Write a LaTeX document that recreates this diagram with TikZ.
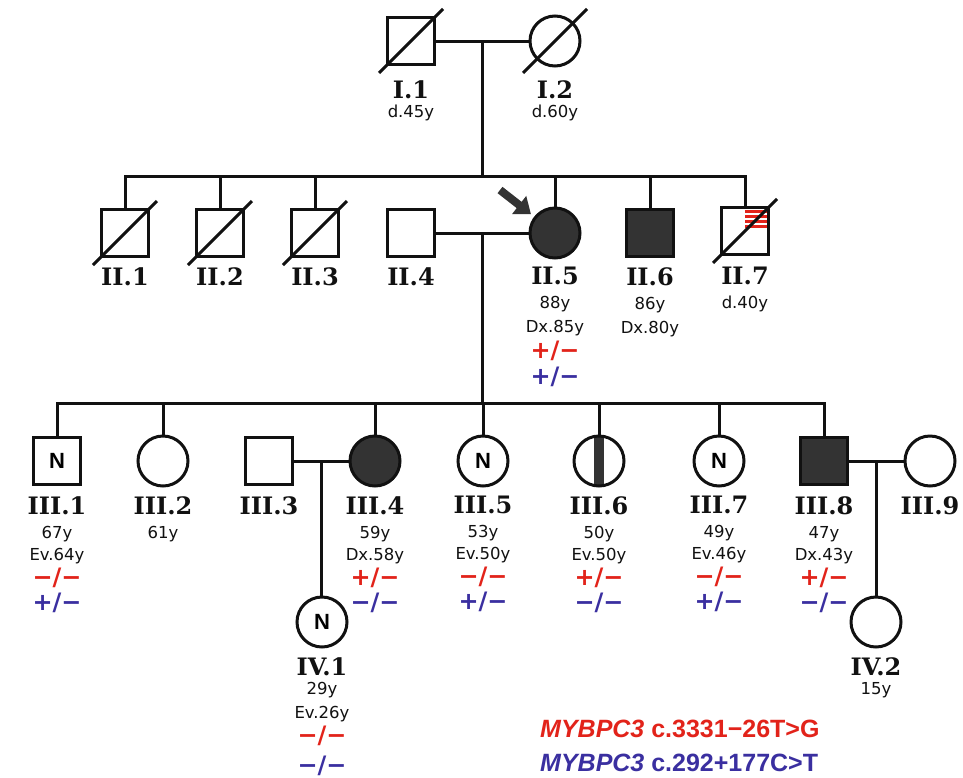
\documentclass[tikz,border=0pt]{standalone}
\usepackage{fontspec}
\usepackage{tikz}
\usetikzlibrary{arrows.meta,calc}
\setmainfont{DejaVu Sans}
\newfontfamily\idserif{DejaVu Serif}
\newfontfamily\arialfont{Liberation Sans}
\definecolor{ink}{HTML}{111111}
\definecolor{dark}{HTML}{333333}
\definecolor{varred}{HTML}{E2231A}
\definecolor{varblue}{HTML}{3A2FA0}
\newcommand{\pid}[1]{{\idserif\bfseries\fontsize{24}{24}\selectfont #1}}
\newcommand{\gtred}[1]{{\color{varred}\bfseries\fontsize{24}{24}\selectfont #1}}
\newcommand{\gtblue}[1]{{\color{varblue}\bfseries\fontsize{24}{24}\selectfont #1}}
\tikzset{
  male/.style={draw=ink, line width=3pt, fill=white, minimum size=47pt, inner sep=0pt, font=\arialfont\bfseries\fontsize{22}{22}\selectfont},
  female/.style={male, circle, minimum size=50pt},
  affected/.style={fill=dark},
  carrierbar/.style={path picture={\fill[dark] ([xshift=-5pt]path picture bounding box.north) rectangle ([xshift=5pt]path picture bounding box.south);}},
  redlines/.style={path picture={\foreach \dy in {4,9,14,19} \draw[varred, line width=2.5pt] ([yshift=-\dy pt]path picture bounding box.north) -- ([yshift=-\dy pt]path picture bounding box.north east);}},
  link/.style={draw=ink, line width=3pt},
  slash/.style={draw=ink, line width=3pt},
  proband/.style={draw=dark, line width=8pt, -{Triangle[length=15pt,width=22pt]}, shorten >=4pt},
  info/.style={anchor=north, align=center, inner sep=0pt, font=\fontsize{16.5}{24}\selectfont, text=ink},
  legend/.style={anchor=base west, inner sep=0pt, font=\arialfont\bfseries\fontsize{25}{25}\selectfont}
}
\begin{document}
\begin{tikzpicture}[x=1pt,y=-1pt]
\useasboundingbox[fill=white] (0,0) rectangle (963,777);
% generation I
\node[male] (i1) at (411,41) {};
\node[female] (i2) at (555,41) {};
% generation II
\node[male] (ii1) at (125,233) {};
\node[male] (ii2) at (220,233) {};
\node[male] (ii3) at (315,233) {};
\node[male] (ii4) at (411,233) {};
\node[female, affected] (ii5) at (555,233) {};
\node[male, affected] (ii6) at (650,233) {};
\node[male, redlines] (ii7) at (745,231) {};
% generation III
\node[male] (iii1) at (57,461) {N};
\node[female] (iii2) at (163,461) {};
\node[male] (iii3) at (269,461) {};
\node[female, affected] (iii4) at (375,461) {};
\node[female] (iii5) at (483,461) {N};
\node[female, carrierbar] (iii6) at (599,461) {};
\node[female] (iii7) at (719,461) {N};
\node[male, affected] (iii8) at (824,461) {};
\node[female] (iii9) at (930,461) {};
% generation IV
\node[female] (iv1) at (322,622) {N};
\node[female] (iv2) at (876,622) {};

% deceased
\foreach \p in {i1,i2,ii1,ii2,ii3,ii7}
  \draw[slash] ($(\p)+(-32,32)$) -- ($(\p)+(32,-32)$);

% matings and sibships
\draw[link] (i1) -- (i2);
\coordinate (m1) at ($(i1.east)!0.5!(i2.west)$);
\coordinate (s2) at ($(m1)+(0,135)$);
\draw[link] (m1) -- (s2);
\draw[link] (ii1.north) |- (ii7.north |- s2) -- (ii7.north);
\foreach \c in {ii2,ii3,ii5,ii6}
  \draw[link] (\c.north) -- (\c.north |- s2);

\draw[link] (ii4) -- (ii5);
\coordinate (m2) at ($(ii4.east)!0.5!(ii5.west)$);
\coordinate (s3) at ($(m2)+(0,170)$);
\draw[link] (m2) -- (s3);
\draw[link] (iii1.north) |- (iii8.north |- s3) -- (iii8.north);
\foreach \c in {iii2,iii4,iii5,iii6,iii7}
  \draw[link] (\c.north) -- (\c.north |- s3);

\draw[link] (iii3) -- (iii4);
\coordinate (m3) at ($(iii3.east)!0.5!(iii4.west)$);
\draw[link] (m3) -- (m3 |- iv1.north);
\draw[link] (iii8) -- (iii9);
\coordinate (m4) at ($(iii8.east)!0.5!(iii9.west)$);
\draw[link] (m4) -- (m4 |- iv2.north);

% proband
\coordinate (pb) at ($(ii5)+(-55,-43)$);
\draw[proband] (pb) -- (ii5);

% labels
\node[info] (i1t) at (411,80) {\pid{I.1}\\[-5pt]d.45y};
\node[info] (i2t) at (555,80) {\pid{I.2}\\[-5pt]d.60y};
\node[info] (ii1t) at (125,267) {\pid{II.1}};
\node[info] (ii2t) at (220,267) {\pid{II.2}};
\node[info] (ii3t) at (315,267) {\pid{II.3}};
\node[info] (ii4t) at (411,267) {\pid{II.4}};
\node[info] (ii5t) at (555,267) {\pid{II.5}\\88y\\Dx.85y\\[2pt]\gtred{+/−}\\[2pt]\gtblue{+/−}};
\node[info] (ii6t) at (650,267) {\pid{II.6}\\86y\\Dx.80y};
\node[info] (ii7t) at (745,267) {\pid{II.7}\\d.40y};
\node[info] (iii1t) at (57,496) {\pid{III.1}\\67y\\[-2pt]Ev.64y\\[1pt]\gtred{−/−}\\[1pt]\gtblue{+/−}};
\node[info] (iii2t) at (163,496) {\pid{III.2}\\61y};
\node[info] (iii3t) at (269,496) {\pid{III.3}};
\node[info] (iii4t) at (375,496) {\pid{III.4}\\59y\\[-2pt]Dx.58y\\[1pt]\gtred{+/−}\\[1pt]\gtblue{−/−}};
\node[info] (iii5t) at (483,496) {\pid{III.5}\\53y\\[-2pt]Ev.50y\\[1pt]\gtred{−/−}\\[1pt]\gtblue{+/−}};
\node[info] (iii6t) at (599,496) {\pid{III.6}\\50y\\[-2pt]Ev.50y\\[1pt]\gtred{+/−}\\[1pt]\gtblue{−/−}};
\node[info] (iii7t) at (719,496) {\pid{III.7}\\49y\\[-2pt]Ev.46y\\[1pt]\gtred{−/−}\\[1pt]\gtblue{+/−}};
\node[info] (iii8t) at (824,496) {\pid{III.8}\\47y\\[-2pt]Dx.43y\\[1pt]\gtred{+/−}\\[1pt]\gtblue{−/−}};
\node[info] (iii9t) at (930,496) {\pid{III.9}};
\node[info] (iv1t) at (322,657) {\pid{IV.1}\\[-5pt]29y\\Ev.26y\\[1pt]\gtred{−/−}\\[6pt]\gtblue{−/−}};
\node[info] (iv2t) at (876,657) {\pid{IV.2}\\[-5pt]15y};

% legend
\node[legend, text=varred] (var1) at (540,737) {\textit{MYBPC3} c.3331−26T>G};
\node[legend, text=varblue] (var2) at (540,771) {\textit{MYBPC3} c.292+177C>T};
\end{tikzpicture}
\end{document}
